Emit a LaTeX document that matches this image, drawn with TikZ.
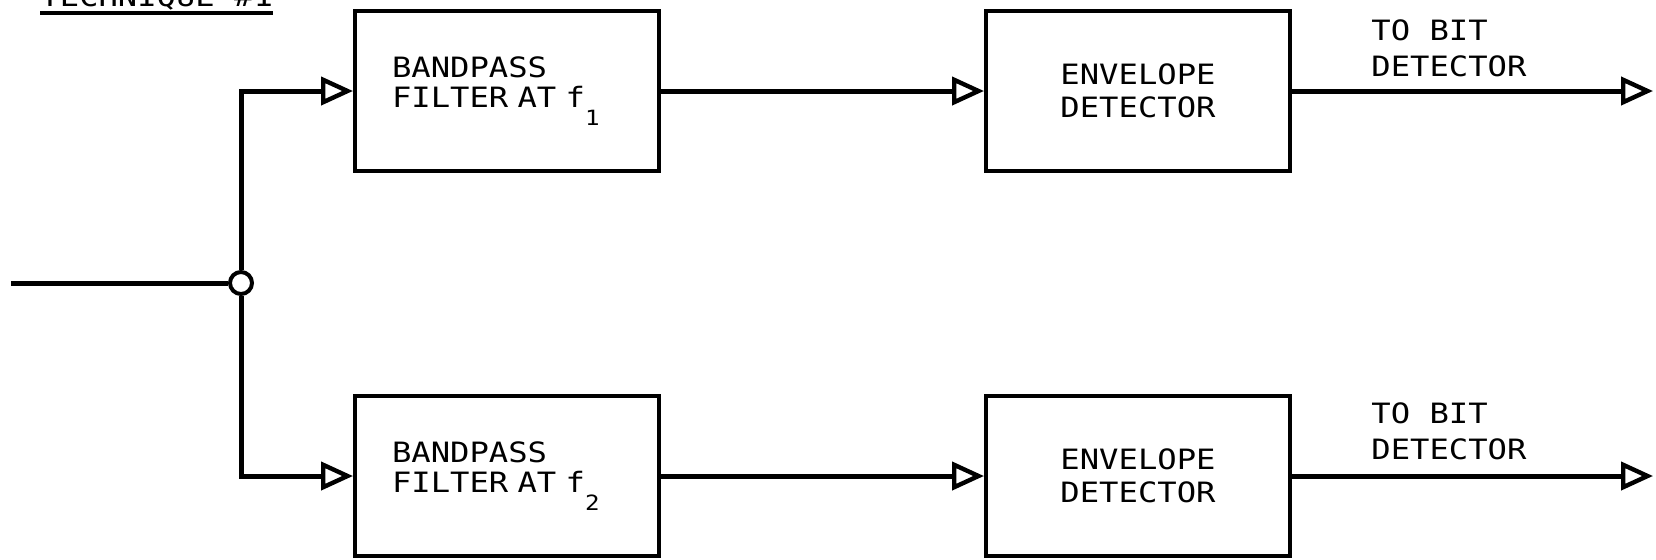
\documentclass[tikz,border=0pt]{standalone}
\usepackage{fontspec}
\setmonofont[FakeStretch=1.15]{DejaVu Sans Mono}
\usetikzlibrary{arrows.meta}

\newcommand{\fsub}[1]{\raisebox{-9pt}{\fontsize{10.5}{10.5}\selectfont #1}}

\begin{document}
\begin{tikzpicture}[
        x=0.5pt, y=-0.5pt,
        signal/.style={line width=2.5pt},
        feed/.style={signal, -{Triangle[open, length=16pt, width=14pt, line width=2.2pt]}},
        block/.style={draw, rectangle, line width=2pt, minimum width=152pt, minimum height=80pt},
        filter/.style={block, align=left, text width=115pt, inner xsep=18.5pt, font=\ttfamily\fontsize{14}{15}\selectfont},
        envelope/.style={block, align=center, font=\ttfamily\fontsize{14}{16.5}\selectfont},
        caption/.style={align=left, inner sep=0pt, font=\ttfamily\fontsize{14}{18}\selectfont},
        junction/.style={draw, circle, line width=2pt, minimum size=11pt, inner sep=0pt}
    ]
        \useasboundingbox (0,0) rectangle (1656,559);

        % Heading, cut by the top edge
        \node[caption, anchor=base west] (heading) at (40,6) {TECHNIQUE \#1};
        \draw[line width=2pt] ([yshift=-3.5pt]heading.base west) -- ([yshift=-3.5pt]heading.base east);

        % Input and branch point
        \coordinate (input) at (11,283);
        \node[junction] (split) at (241,283) {};

        % Upper branch
        \node[filter] (filt1) at (507,91) {BANDPASS\\FILTER AT f\fsub{1}};
        \node[envelope] (env1) at (1138,91) {ENVELOPE\\DETECTOR};
        \coordinate (out1) at (1653,91);
        \node[caption, anchor=south west] (lab1) at (1371,77) {TO BIT\\DETECTOR};

        % Lower branch
        \node[filter] (filt2) at (507,476) {BANDPASS\\FILTER AT f\fsub{2}};
        \node[envelope] (env2) at (1138,476) {ENVELOPE\\DETECTOR};
        \coordinate (out2) at (1653,476);
        \node[caption, anchor=south west] (lab2) at (1371,460) {TO BIT\\DETECTOR};

        % Connections
        \draw[signal] (input) -- (split.west);
        \draw[feed] (split.north) |- (filt1.west);
        \draw[feed] (split.south) |- (filt2.west);
        \draw[feed] (filt1.east) -- (env1.west);
        \draw[feed] (filt2.east) -- (env2.west);
        \draw[feed] (env1.east) -- (out1);
        \draw[feed] (env2.east) -- (out2);

    \end{tikzpicture}
\end{document}
